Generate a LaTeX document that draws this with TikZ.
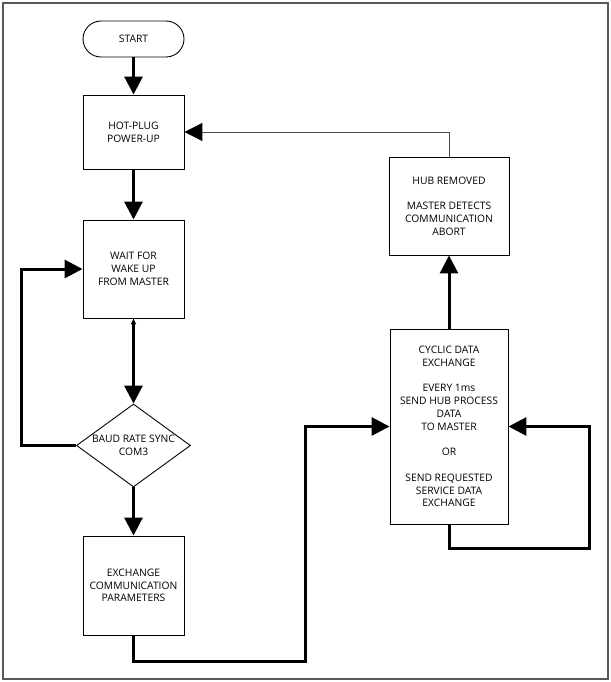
\documentclass[tikz,border=0pt]{standalone}
\usepackage{fontspec}
\setmainfont{Open Sans}
\usetikzlibrary{arrows.meta,shapes.geometric}

\tikzset{
  box/.style={draw,line width=0.9pt,minimum width=101pt,inner sep=0pt,align=center,
    font=\fontsize{10.3}{12.8}\selectfont},
  flow/.style={line width=3pt},
  thinflow/.style={line width=1pt,draw=black!70,-{Triangle[length=18pt,width=18pt,color=black]}},
}

\begin{document}
\begin{tikzpicture}[x=1pt,y=-1pt,>={Triangle[length=18pt,width=18pt]}]
  \useasboundingbox (0,0) rectangle (610,682);
  \draw[line width=1.2pt,draw=black!65] (3,3) rectangle (608,679);

  \node[box,rounded corners=18pt,minimum height=36pt] (start) at (133.5,39) {START};
  \node[box,minimum height=74pt] (hp) at (133.5,132) {HOT-PLUG\\POWER-UP}
  edge[<-,flow] (start);
  \node[box,minimum height=98pt] (wait) at (133.5,269) {WAIT FOR\\WAKE UP\\FROM MASTER}
  edge[<-,flow] (hp);
  \node[box,diamond,minimum width=114pt,minimum height=83pt,aspect=1.37] (baud) at (133.5,445.5)
  {BAUD RATE SYNC\\COM3};
  \draw[flow,{Triangle[length=6pt,width=5pt]}->] (wait) -- (baud);
  \node[box,minimum height=99pt] (xchg) at (133.5,585.5) {EXCHANGE\\COMMUNICATION\\PARAMETERS}
  edge[<-,flow] (baud);

  \node[box,minimum width=118pt,minimum height=195pt] (cyc) at (449,426.5)
  {CYCLIC DATA\\EXCHANGE\\[12.8pt]EVERY 1ms\\SEND HUB PROCESS\\DATA\\TO MASTER\\[12.8pt]OR\\[12.8pt]SEND REQUESTED\\SERVICE DATA\\EXCHANGE};
  \node[box,minimum width=120pt,minimum height=98pt] (hub) at (449,206)
  {HUB REMOVED\\[12.8pt]MASTER DETECTS\\COMMUNICATION\\ABORT}
  edge[<-,flow] (cyc);

  % loops and returns
  \coordinate (j1) at (305,661);
  \coordinate (j2) at (589,548);
  \draw[flow,->] (baud.west) -- ++(-55,0) |- (wait.west);
  \draw[flow,->] (xchg.south) |- (j1) |- (cyc.west);
  \draw[flow,->] (cyc.south) |- (j2) |- (cyc.east);
  \draw[thinflow] (hub.north) |- (hp.east);
\end{tikzpicture}
\end{document}
